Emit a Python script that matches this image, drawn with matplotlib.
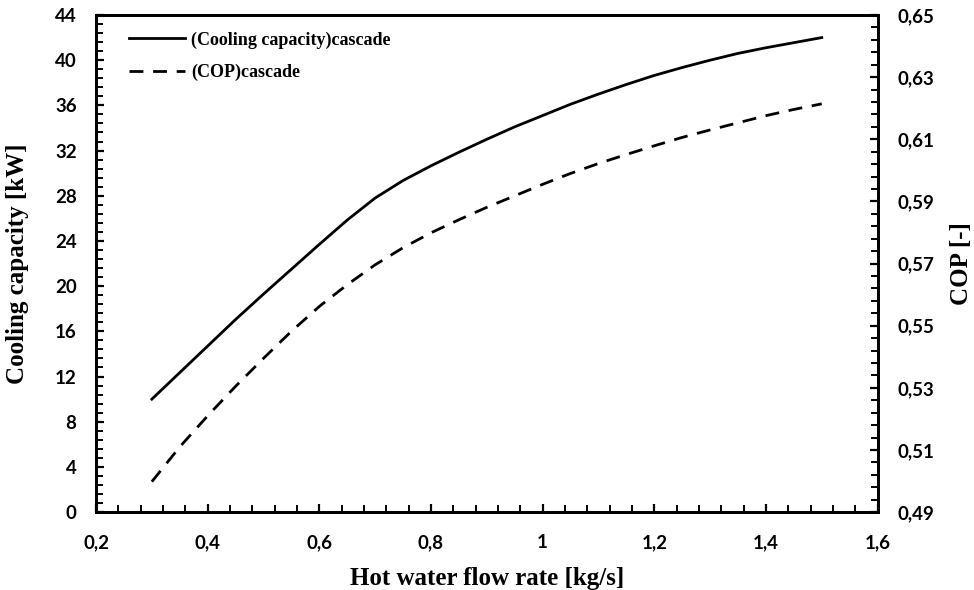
import matplotlib
matplotlib.use("Agg")
import matplotlib.pyplot as plt
import numpy as np
from matplotlib.ticker import MultipleLocator, FixedLocator, FuncFormatter

flow_rate = [0.30, 0.35, 0.40, 0.45, 0.50, 0.55, 0.60, 0.65, 0.70, 0.75, 0.80, 0.85,
             0.90, 0.95, 1.00, 1.05, 1.10, 1.15, 1.20, 1.25, 1.30, 1.35, 1.40, 1.45, 1.50]
cooling_capacity = [10.0, 12.35, 14.7, 17.05, 19.3, 21.5, 23.7, 25.85, 27.8, 29.35, 30.65, 31.85,
                    33.0, 34.1, 35.1, 36.1, 37.0, 37.85, 38.65, 39.35, 40.0, 40.6, 41.1, 41.55, 42.0]
cop = [0.4998, 0.511, 0.521, 0.5305, 0.5395, 0.5482, 0.5562, 0.5632, 0.5696, 0.5751,
       0.5799, 0.5841, 0.5881, 0.5918, 0.5955, 0.5990, 0.6022, 0.6051, 0.6079, 0.6106,
       0.6130, 0.6153, 0.6176, 0.6196, 0.6214]

x_ticks = [0.2, 0.4, 0.6, 0.8, 1.0, 1.2, 1.4, 1.6]
left_ticks = [0, 4, 8, 12, 16, 20, 24, 28, 32, 36, 40, 44]
right_ticks = [0.49, 0.51, 0.53, 0.55, 0.57, 0.59, 0.61, 0.63, 0.65]

serif = "Liberation Serif"
tickfont = "Lato"

fig = plt.figure(figsize=(9.74, 5.9), dpi=100)
ax = fig.add_axes([0.0986, 0.132, 0.8024, 0.8426])
ax2 = ax.twinx()

l1, = ax.plot(flow_rate, cooling_capacity, color="black", lw=2.0, ls="-",
              label="(Cooling capacity)cascade")
l2, = ax2.plot(flow_rate, cop, color="black", lw=2.0, ls=(0, (5, 3.5)),
               label="(COP)cascade")

ax.set_xlim(0.2, 1.6)
ax.set_ylim(0, 44)
ax2.set_ylim(0.49, 0.65)

ax.xaxis.set_major_locator(FixedLocator(x_ticks))
ax.xaxis.set_minor_locator(MultipleLocator(0.04))
ax.yaxis.set_major_locator(FixedLocator(left_ticks))
ax.yaxis.set_minor_locator(MultipleLocator(0.8))
ax2.yaxis.set_major_locator(FixedLocator(right_ticks))
ax2.yaxis.set_minor_locator(FixedLocator(np.arange(0.49, 0.6501, 0.004)))


def fmt_x(v, pos):
    s = f"{v:.1f}"
    if s.endswith(".0"):
        s = s[:-2]
    return s.replace(".", ",")


ax.xaxis.set_major_formatter(FuncFormatter(fmt_x))
ax.yaxis.set_major_formatter(FuncFormatter(lambda v, p: f"{v:.0f}"))
ax2.yaxis.set_major_formatter(FuncFormatter(lambda v, p: f"{v:.2f}".replace(".", ",")))

for a in (ax, ax2):
    for sp in a.spines.values():
        sp.set_linewidth(2.0)
    a.tick_params(which="major", direction="in", length=6, width=1.6)
    a.tick_params(which="minor", direction="in", length=5, width=1.4)

ax.tick_params(axis="x", which="both", top=False, pad=16)
ax.tick_params(axis="y", which="both", right=False, pad=14)
ax2.tick_params(axis="y", which="both", left=False, pad=14)

for lab in ax.get_xticklabels() + ax.get_yticklabels() + ax2.get_yticklabels():
    lab.set_fontfamily(tickfont)
    lab.set_fontweight("bold")
    lab.set_fontsize(13.5)

ax.set_xlabel("Hot water flow rate [kg/s]", fontfamily=serif, fontweight="bold",
              fontsize=18, va="center")
ax.set_ylabel("Cooling capacity [kW]", fontfamily=serif, fontweight="bold",
              fontsize=18, va="center")
ax2.set_ylabel("COP [-]", fontfamily=serif, fontweight="bold",
               fontsize=18, va="center")
ax.xaxis.set_label_coords(0.5, -0.133)
ax.yaxis.set_label_coords(-0.1, 0.5)
ax2.yaxis.set_label_coords(1.108, 0.5)

leg = ax.legend(handles=[l1, l2], loc="upper left", frameon=False,
                prop={"family": serif, "weight": "bold", "size": 13},
                handlelength=3.1, handletextpad=0.3, labelspacing=0.85,
                bbox_to_anchor=(0.022, 1.0))

fig.savefig("out.png", dpi=100)
